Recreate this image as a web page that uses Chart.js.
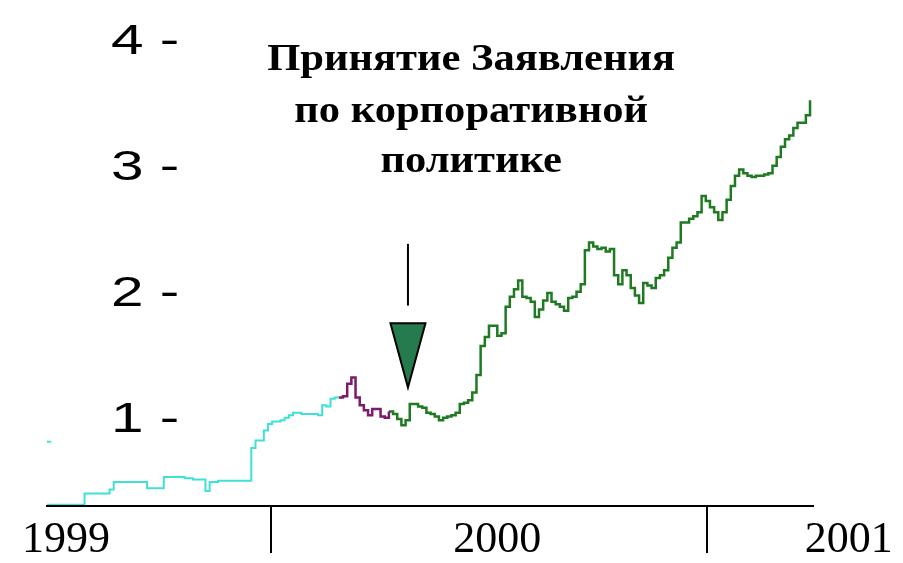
<!DOCTYPE html>
<html>
<head>
<meta charset="utf-8">
<script src="https://cdn.jsdelivr.net/npm/chart.js@4.4.1/dist/chart.umd.min.js"></script>
<style>
  html, body { margin: 0; padding: 0; background: #ffffff; }
  #wrap { width: 903px; height: 563px; }
</style>
</head>
<body>
<div id="wrap"><canvas id="chart" width="903" height="563"></canvas></div>
<script>
// x axis is measured in calendar days from the first sample; one sample every 3.5 days
const DAYS_PER_SAMPLE = 3.5;
const X_MAX_DAYS = 643;

// year boundaries (tick marks) and where the year captions sit
const yearTickDays = [188, 554];
const yearLabels = ['1999', '2000', '2001'];
const yearLabelDays = [16, 378, 673];

// value axis ticks
const valueTicks = [1, 2, 3, 4];

// index level, before the statement (turquoise part)
const cyanStart = 0;
const cyanValues = [
  0.33, 0.33, 0.33, 0.33, 0.33, 0.33, 0.33, 0.33, 0.33,
  0.42, 0.42, 0.42, 0.42, 0.42, 0.42, 0.45,
  0.51, 0.51, 0.51, 0.51, 0.51, 0.51, 0.51, 0.51,
  0.46, 0.46, 0.46, 0.46,
  0.55, 0.55, 0.55, 0.55, 0.55, 0.54, 0.54,
  0.53, 0.53, 0.53, 0.44, 0.51, 0.51,
  0.52, 0.52, 0.52, 0.52, 0.52, 0.52, 0.52, 0.52,
  0.78, 0.84, 0.84, 0.92, 0.97, 0.99, 0.99, 1.00, 1.02, 1.04, 1.06, 1.06,
  1.05, 1.05, 1.05, 1.05, 1.04, 1.12, 1.11, 1.17, 1.18, 1.18
];
// short isolated turquoise stroke at the very start
const cyanTickStart = 0;
const cyanTickValues = [0.83, 0.83];

// purple part
const plumStart = 70;
const plumValues = [1.18, 1.19, 1.29, 1.34, 1.18, 1.12, 1.08, 1.04, 1.09, 1.09, 1.03, 1.02, 1.07];

// green part, after the statement
const greenStart = 82;
const greenValues = [
  1.07, 1.05, 1.01, 0.96, 1.00, 1.13, 1.13, 1.11, 1.10, 1.06, 1.05, 1.03, 1.00, 1.02, 1.03, 1.04,
  1.06, 1.13, 1.14, 1.16, 1.22, 1.36, 1.59, 1.66, 1.75, 1.75, 1.67, 1.69, 1.90, 1.98, 2.04, 2.11,
  1.98, 1.97, 1.94, 1.82, 1.88, 1.95, 2.01, 1.94, 1.92, 1.90, 1.87, 1.97, 1.98, 2.02, 2.08, 2.35,
  2.41, 2.38, 2.36, 2.37, 2.34, 2.36, 2.15, 2.08, 2.19, 2.15, 2.05, 1.99, 1.93, 2.09, 2.07, 2.05,
  2.13, 2.15, 2.19, 2.29, 2.37, 2.41, 2.57, 2.57, 2.60, 2.62, 2.65, 2.78, 2.74, 2.69, 2.65, 2.59,
  2.65, 2.75, 2.86, 2.94, 2.99, 2.96, 2.94, 2.93, 2.94, 2.94, 2.95, 2.96, 3.02, 3.09, 3.17, 3.23,
  3.26, 3.32, 3.36, 3.36, 3.42, 3.54
];

// caption of the event marker
const eventCaption = ['Принятие Заявления', 'по корпоративной', 'политике'];
const eventDay = 303;

function toPoints(start, values) {
  return values.map((v, i) => ({ x: (start + i) * DAYS_PER_SAMPLE, y: v }));
}

const LABEL_STRETCH = 1.36;

// arrow with stem and the caption above the curve
const eventMarker = {
  id: 'eventMarker',
  afterDatasetsDraw(chart, args, o) {
    const { ctx, scales: { x, y } } = chart;
    const cx = x.getPixelForValue(o.day);
    ctx.save();
    ctx.strokeStyle = '#000000';
    ctx.lineWidth = 2;
    ctx.beginPath();
    ctx.moveTo(cx, y.getPixelForValue(o.stemTop));
    ctx.lineTo(cx, y.getPixelForValue(o.stemBottom));
    ctx.stroke();
    const top = y.getPixelForValue(o.headTop);
    const tip = y.getPixelForValue(o.tip);
    const half = x.getPixelForValue(o.day + o.halfWidthDays) - cx;
    ctx.beginPath();
    ctx.moveTo(cx - half, top);
    ctx.lineTo(cx + half, top);
    ctx.lineTo(cx, tip);
    ctx.closePath();
    ctx.fillStyle = o.fill;
    ctx.fill();
    ctx.lineJoin = 'miter';
    ctx.stroke();
    ctx.restore();
  },
  afterDraw(chart, args, o) {
    const { ctx, scales: { x, y } } = chart;
    const cx = x.getPixelForValue(o.captionDay);
    ctx.save();
    ctx.fillStyle = '#000000';
    ctx.font = o.captionFont;
    ctx.textAlign = 'center';
    ctx.textBaseline = 'alphabetic';
    ctx.translate(cx, 0);
    ctx.scale(o.captionStretch, 1);
    eventCaption.forEach((line, i) => {
      ctx.fillText(line, 0, y.getPixelForValue(o.captionBaselines[i]));
    });
    ctx.restore();
  }
};

function lineSet(data, color, width) {
  return {
    data, borderColor: color, backgroundColor: color, borderWidth: width,
    stepped: true, pointRadius: 0, fill: false, tension: 0
  };
}

new Chart(document.getElementById('chart'), {
  type: 'line',
  data: {
    datasets: [
      lineSet(toPoints(cyanTickStart, cyanTickValues), '#3fe0d6', 2),
      lineSet(toPoints(cyanStart, cyanValues), '#3fe0d6', 2),
      lineSet(toPoints(plumStart, plumValues), '#7a1b6c', 2.5),
      lineSet(toPoints(greenStart, greenValues), '#1f7a22', 2.5)
    ]
  },
  options: {
    responsive: false,
    animation: false,
    devicePixelRatio: 1,
    layout: { padding: { left: 47, right: 90, top: 17, bottom: 0 } },
    plugins: {
      legend: { display: false },
      tooltip: { enabled: false },
      eventMarker: {
        day: eventDay,
        stemTop: 2.40, stemBottom: 1.91,
        headTop: 1.77, tip: 1.26, halfWidthDays: 14.7,
        fill: '#257a4e',
        captionDay: 356,
        captionBaselines: [3.78, 3.37, 2.97],
        captionStretch: 1.12,
        captionFont: "bold 38px 'Liberation Serif', 'Times New Roman', serif"
      }
    },
    scales: {
      x: {
        type: 'linear', position: 'bottom', min: 0, max: X_MAX_DAYS, bounds: 'data',
        afterBuildTicks: s => { s.ticks = yearTickDays.map(v => ({ value: v })); },
        afterFit: s => { s.height = 0; s.paddingLeft = 0; s.paddingRight = 0; },
        ticks: { display: false },
        grid: { display: true, drawOnChartArea: false, drawTicks: true, tickLength: 47, color: '#000000', lineWidth: 2 },
        border: { display: true, color: '#000000', width: 2, z: 1 }
      },
      x2: {
        type: 'linear', axis: 'x', position: 'bottom', min: 0, max: X_MAX_DAYS, bounds: 'data',
        afterBuildTicks: s => { s.ticks = yearLabelDays.map(v => ({ value: v })); },
        afterFit: s => { s.height = 57; s.paddingLeft = 0; s.paddingRight = 0; },
        ticks: {
          autoSkip: false, maxRotation: 0, minRotation: 0, padding: 8, color: '#000000',
          font: { family: "'Liberation Serif', 'Times New Roman', serif", size: 44 },
          callback: (v, i) => yearLabels[i]
        },
        grid: { display: false, drawTicks: false },
        border: { display: false }
      },
      y: {
        type: 'linear', position: 'left', min: 0.32, max: 4.2, bounds: 'data',
        afterBuildTicks: s => { s.ticks = valueTicks.map(v => ({ value: v })); },
        afterFit: s => {
          s.width = 0; s.paddingTop = 0; s.paddingBottom = 0;
          if (!s._wideLabels) {
            s._wideLabels = true;
            const drawLabels = s.drawLabels;
            s.drawLabels = function (area) {
              const ctx = this.ctx;
              const x0 = this.right + this.options.ticks.padding;
              ctx.save();
              ctx.translate(x0, 0);
              ctx.scale(LABEL_STRETCH, 1);
              ctx.translate(-x0, 0);
              drawLabels.call(this, area);
              ctx.restore();
            };
          }
        },
        ticks: {
          mirror: true, padding: 64, color: '#000000',
          font: { family: "'Liberation Sans', Arial, sans-serif", size: 43 },
          callback: v => v + ' -'
        },
        grid: { display: false, drawTicks: false },
        border: { display: false }
      }
    }
  },
  plugins: [eventMarker]
});
</script>
</body>
</html>
